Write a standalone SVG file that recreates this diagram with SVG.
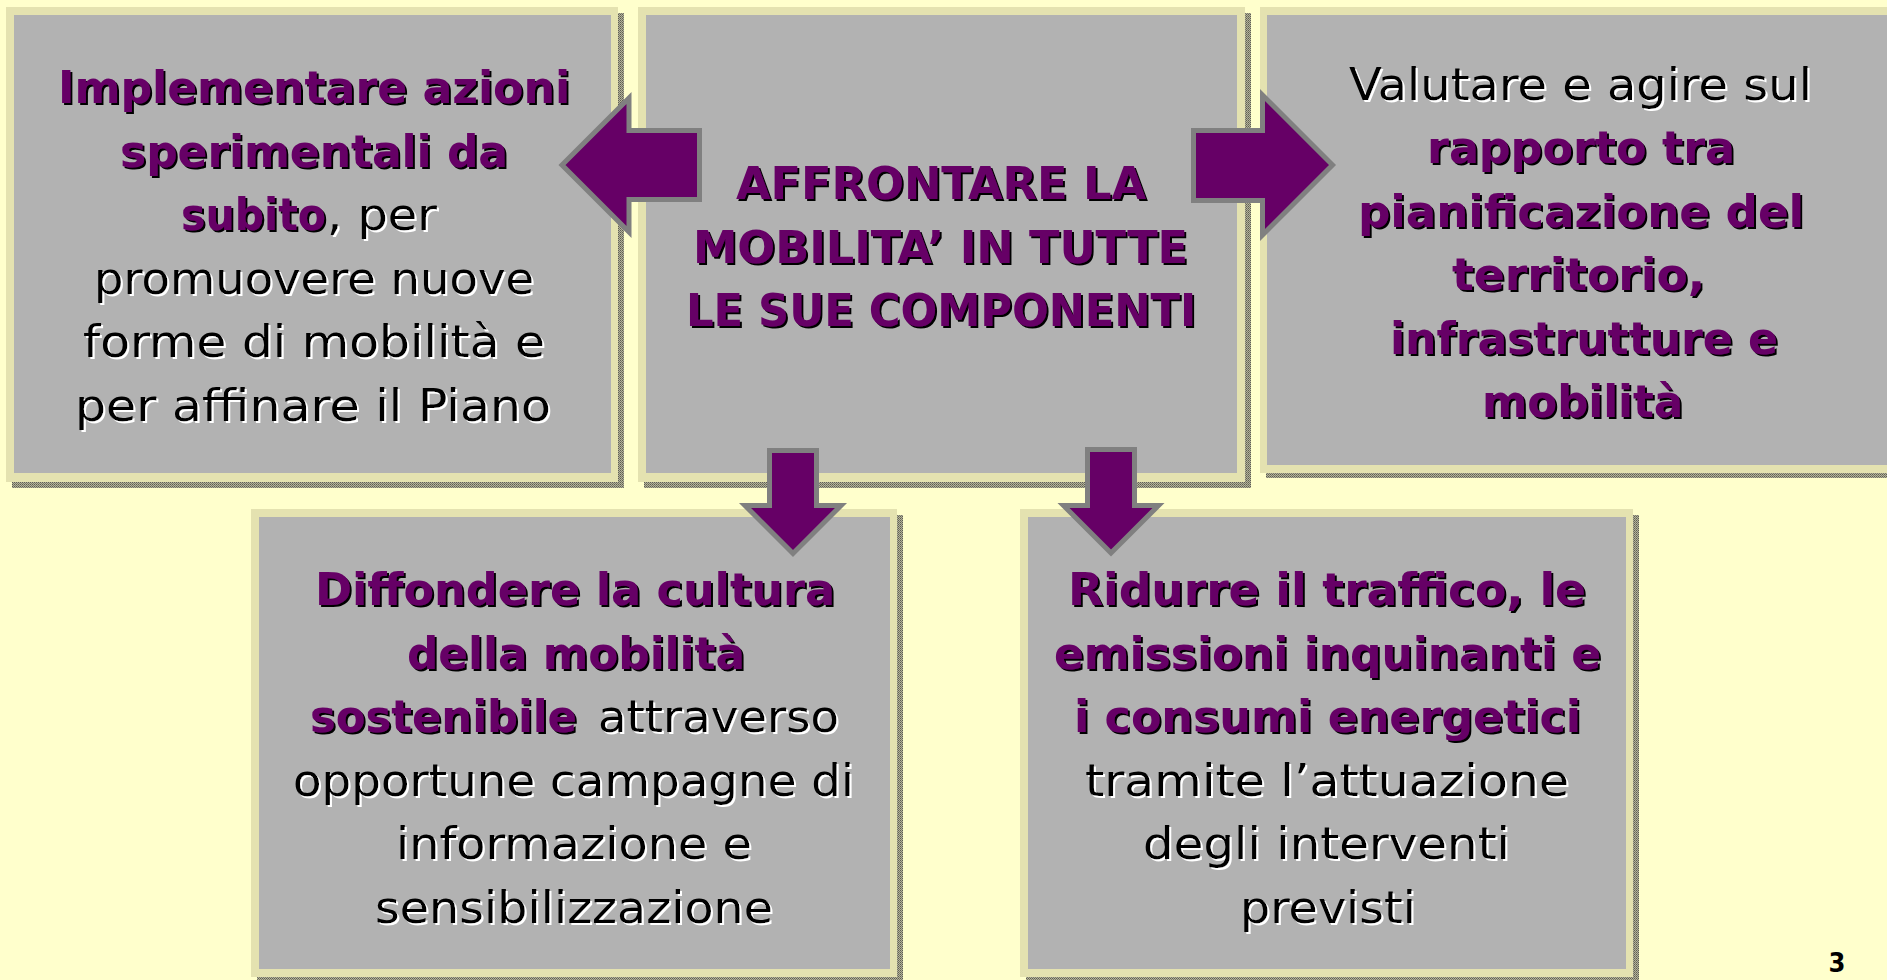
<svg xmlns="http://www.w3.org/2000/svg" width="1887" height="980" viewBox="0 0 1887 980">
<defs>
<pattern id="dots" width="2" height="2" patternUnits="userSpaceOnUse">
<rect width="2" height="2" fill="#b4b39a"/>
<rect width="1" height="1" fill="#5e5e52"/>
<rect x="1" y="1" width="1" height="1" fill="#7a7a6a"/>
</pattern>
<filter id="shP" x="-5%" y="-30%" width="110%" height="160%">
<feDropShadow dx="2" dy="2" stdDeviation="0" flood-color="#000000" flood-opacity="1"/>
</filter>
<filter id="shW" x="-5%" y="-30%" width="110%" height="160%">
<feDropShadow dx="2" dy="2" stdDeviation="0" flood-color="#ffffff" flood-opacity="1"/>
</filter>
<style>
.sh{fill:url(#dots)}
.fr{fill:#e4e2b0}
.in{fill:#b2b2b2}
.b{font-family:"DejaVu Sans Condensed","DejaVu Sans",sans-serif;font-size:45px;font-weight:bold;fill:#660066;filter:url(#shP)}
.r{font-family:"DejaVu Sans Condensed","DejaVu Sans",sans-serif;font-size:45px;fill:#000000;filter:url(#shW)}
.arr{fill:#660066;stroke:#808080;stroke-width:5;stroke-linejoin:miter;stroke-miterlimit:10}
.pg{font-family:"DejaVu Sans Condensed","DejaVu Sans",sans-serif;font-size:27px;font-weight:bold;fill:#000000}
</style>
</defs>
<rect x="0" y="0" width="1887" height="980" fill="#ffffcc"/>

<g id="node-left">
<rect class="sh" x="12" y="13" width="612" height="475"/>
<rect class="fr" x="6" y="7" width="612" height="475"/>
<rect class="in" x="14" y="15" width="597" height="458"/>
<text class="b" x="58" y="103" textLength="512" lengthAdjust="spacingAndGlyphs">Implementare azioni</text>
<text class="b" x="120" y="166.5" textLength="388" lengthAdjust="spacingAndGlyphs">sperimentali da</text>
<text class="b" x="181" y="230" textLength="145" lengthAdjust="spacingAndGlyphs">subito</text>
<text class="r" x="327" y="230" textLength="110" lengthAdjust="spacingAndGlyphs">, per</text>
<text class="r" x="94" y="293.5" textLength="440" lengthAdjust="spacingAndGlyphs">promuovere nuove</text>
<text class="r" x="83" y="357" textLength="462" lengthAdjust="spacingAndGlyphs">forme di mobilità e</text>
<text class="r" x="75" y="420.5" textLength="476" lengthAdjust="spacingAndGlyphs">per affinare il Piano</text>
</g>

<g id="node-center">
<rect class="sh" x="644" y="13" width="607" height="475"/>
<rect class="fr" x="638" y="7" width="607" height="475"/>
<rect class="in" x="646" y="15" width="591" height="458"/>
<text class="b" x="736" y="199" textLength="410" lengthAdjust="spacingAndGlyphs">AFFRONTARE LA</text>
<text class="b" x="693" y="262.5" textLength="495" lengthAdjust="spacingAndGlyphs">MOBILITA’ IN TUTTE</text>
<text class="b" x="686" y="326" textLength="510" lengthAdjust="spacingAndGlyphs">LE SUE COMPONENTI</text>
</g>

<g id="node-right">
<rect class="sh" x="1266" y="13" width="640" height="465"/>
<rect class="fr" x="1260" y="7" width="640" height="466"/>
<rect class="in" x="1267" y="15" width="633" height="450"/>
<text class="r" x="1349" y="99.5" textLength="463" lengthAdjust="spacingAndGlyphs">Valutare e agire sul</text>
<text class="b" x="1427" y="163" textLength="308" lengthAdjust="spacingAndGlyphs">rapporto tra</text>
<text class="b" x="1358" y="226.5" textLength="446" lengthAdjust="spacingAndGlyphs">pianificazione del</text>
<text class="b" x="1452" y="290" textLength="253" lengthAdjust="spacingAndGlyphs">territorio,</text>
<text class="b" x="1390" y="353.5" textLength="388" lengthAdjust="spacingAndGlyphs">infrastrutture e</text>
<text class="b" x="1482" y="417" textLength="201" lengthAdjust="spacingAndGlyphs">mobilità</text>
</g>

<g id="node-bottom-left">
<rect class="sh" x="257" y="515" width="646" height="470"/>
<rect class="fr" x="251" y="509" width="646" height="468"/>
<rect class="in" x="259" y="517" width="631" height="452"/>
<text class="b" x="315" y="605" textLength="520" lengthAdjust="spacingAndGlyphs">Diffondere la cultura</text>
<text class="b" x="407" y="668.5" textLength="338" lengthAdjust="spacingAndGlyphs">della mobilità</text>
<text class="b" x="310" y="732" textLength="267" lengthAdjust="spacingAndGlyphs">sostenibile</text>
<text class="r" x="598" y="732" textLength="241" lengthAdjust="spacingAndGlyphs">attraverso</text>
<text class="r" x="293" y="795.5" textLength="561" lengthAdjust="spacingAndGlyphs">opportune campagne di</text>
<text class="r" x="396" y="859" textLength="356" lengthAdjust="spacingAndGlyphs">informazione e</text>
<text class="r" x="375" y="922.5" textLength="398" lengthAdjust="spacingAndGlyphs">sensibilizzazione</text>
</g>

<g id="node-bottom-right">
<rect class="sh" x="1026" y="515" width="613" height="470"/>
<rect class="fr" x="1020" y="509" width="613" height="468"/>
<rect class="in" x="1028" y="517" width="598" height="452"/>
<text class="b" x="1068" y="605" textLength="518" lengthAdjust="spacingAndGlyphs">Ridurre il traffico, le</text>
<text class="b" x="1054" y="668.5" textLength="547" lengthAdjust="spacingAndGlyphs">emissioni inquinanti e</text>
<text class="b" x="1074" y="732" textLength="507" lengthAdjust="spacingAndGlyphs">i consumi energetici</text>
<text class="r" x="1085" y="795.5" textLength="484" lengthAdjust="spacingAndGlyphs">tramite l’attuazione</text>
<text class="r" x="1143" y="859" textLength="367" lengthAdjust="spacingAndGlyphs">degli interventi</text>
<text class="r" x="1240" y="922.5" textLength="176" lengthAdjust="spacingAndGlyphs">previsti</text>
</g>

<g id="connectors">
<polygon class="arr" points="562,165 629,98 629,130.5 699.5,130.5 699.5,199.5 629,199.5 629,232"/>
<polygon class="arr" points="1332.5,165 1262.5,95 1262.5,130.5 1193.5,130.5 1193.5,200.5 1262.5,200.5 1262.5,235"/>
<polygon class="arr" points="793,553.5 745,505.5 769.5,505.5 769.5,450.5 816.5,450.5 816.5,505.5 841,505.5"/>
<polygon class="arr" points="1111,553 1063.5,505.5 1087.5,505.5 1087.5,449.5 1134.5,449.5 1134.5,505.5 1158.5,505.5"/>
</g>

<text class="pg" x="1837" y="972" text-anchor="middle">3</text>
</svg>
